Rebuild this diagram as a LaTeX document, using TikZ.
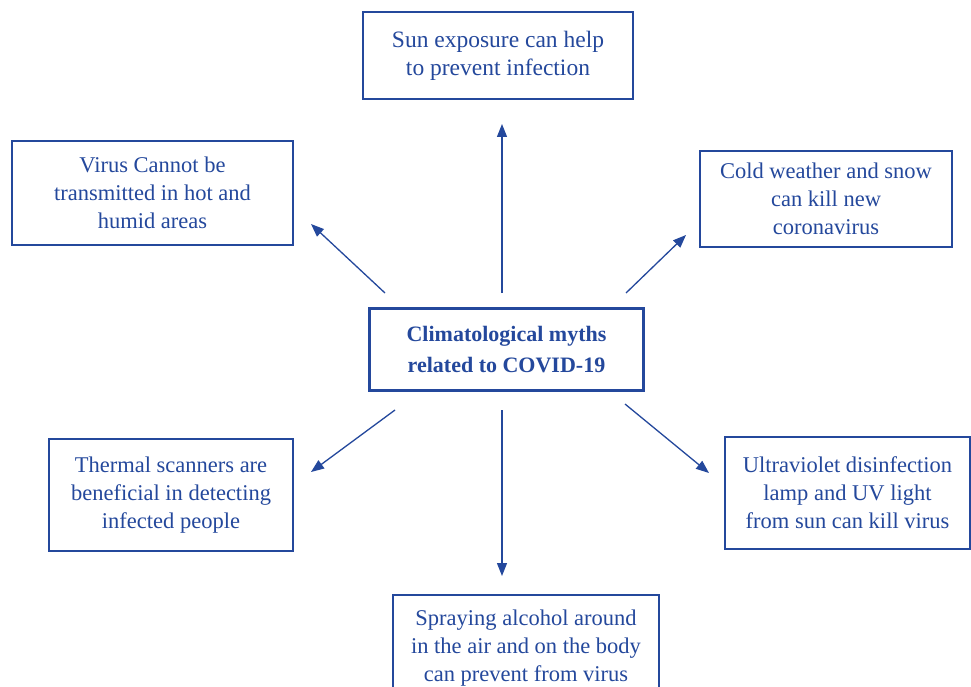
\documentclass[tikz,border=0pt]{standalone}
\usepackage{fontspec}
\setmainfont{Liberation Serif}
\usetikzlibrary{arrows.meta}
\definecolor{myblue}{RGB}{36,72,156}
\begin{document}
\begin{tikzpicture}[x=1pt,y=-1pt,
  myth/.style={draw=myblue,line width=1.8pt,rectangle,align=center,text=myblue,
    font=\fontsize{22.5}{28}\selectfont,inner sep=0pt},
  hub/.style={draw=myblue,line width=3.6pt,rectangle,align=center,text=myblue,
    font=\fontsize{22}{31}\selectfont\bfseries,inner sep=0pt,minimum width=274pt,minimum height=82pt},
  link/.style={draw=myblue,line width=1.3pt,-{Triangle[length=13pt,width=10pt]}}]
\clip (0,0) rectangle (971,687);
\fill[white] (0,0) rectangle (971,687);

\node[hub] (c) at (506.5,349.5) {Climatological myths\\related to COVID-19};

\node[myth,minimum width=270pt,minimum height=87pt,font=\fontsize{23.5}{28}\selectfont] (sun) at (498,55.5)
  {Sun exposure can help\\to prevent infection};
\node[myth,minimum width=281pt,minimum height=104pt] (hot) at (152.5,193)
  {Virus Cannot be\\transmitted in hot and\\humid areas};
\node[myth,minimum width=252pt,minimum height=96pt] (cold) at (826,199)
  {Cold weather and snow\\can kill new\\coronavirus};
\node[myth,minimum width=244pt,minimum height=112pt] (therm) at (171,495)
  {Thermal scanners are\\beneficial in detecting\\infected people};
\node[myth,minimum width=245pt,minimum height=112pt] (uv) at (847.5,493)
  {Ultraviolet disinfection\\lamp and UV light\\from sun can kill virus};
\node[myth,minimum width=266pt,minimum height=106pt] (spray) at (526,648)
  {Spraying alcohol around\\in the air and on the body\\can prevent from virus};

\coordinate (s1) at (502,293); \coordinate (e1) at (502,124);
\coordinate (s2) at (385,293); \coordinate (e2) at (311,224);
\coordinate (s3) at (626,293); \coordinate (e3) at (686,235);
\coordinate (s4) at (395,410); \coordinate (e4) at (311,472);
\coordinate (s5) at (502,410); \coordinate (e5) at (502,576);
\coordinate (s6) at (625,404); \coordinate (e6) at (709,473);

\draw[link] (s1) -- (e1);
\draw[link] (s2) -- (e2);
\draw[link] (s3) -- (e3);
\draw[link] (s4) -- (e4);
\draw[link] (s5) -- (e5);
\draw[link] (s6) -- (e6);
\end{tikzpicture}
\end{document}
